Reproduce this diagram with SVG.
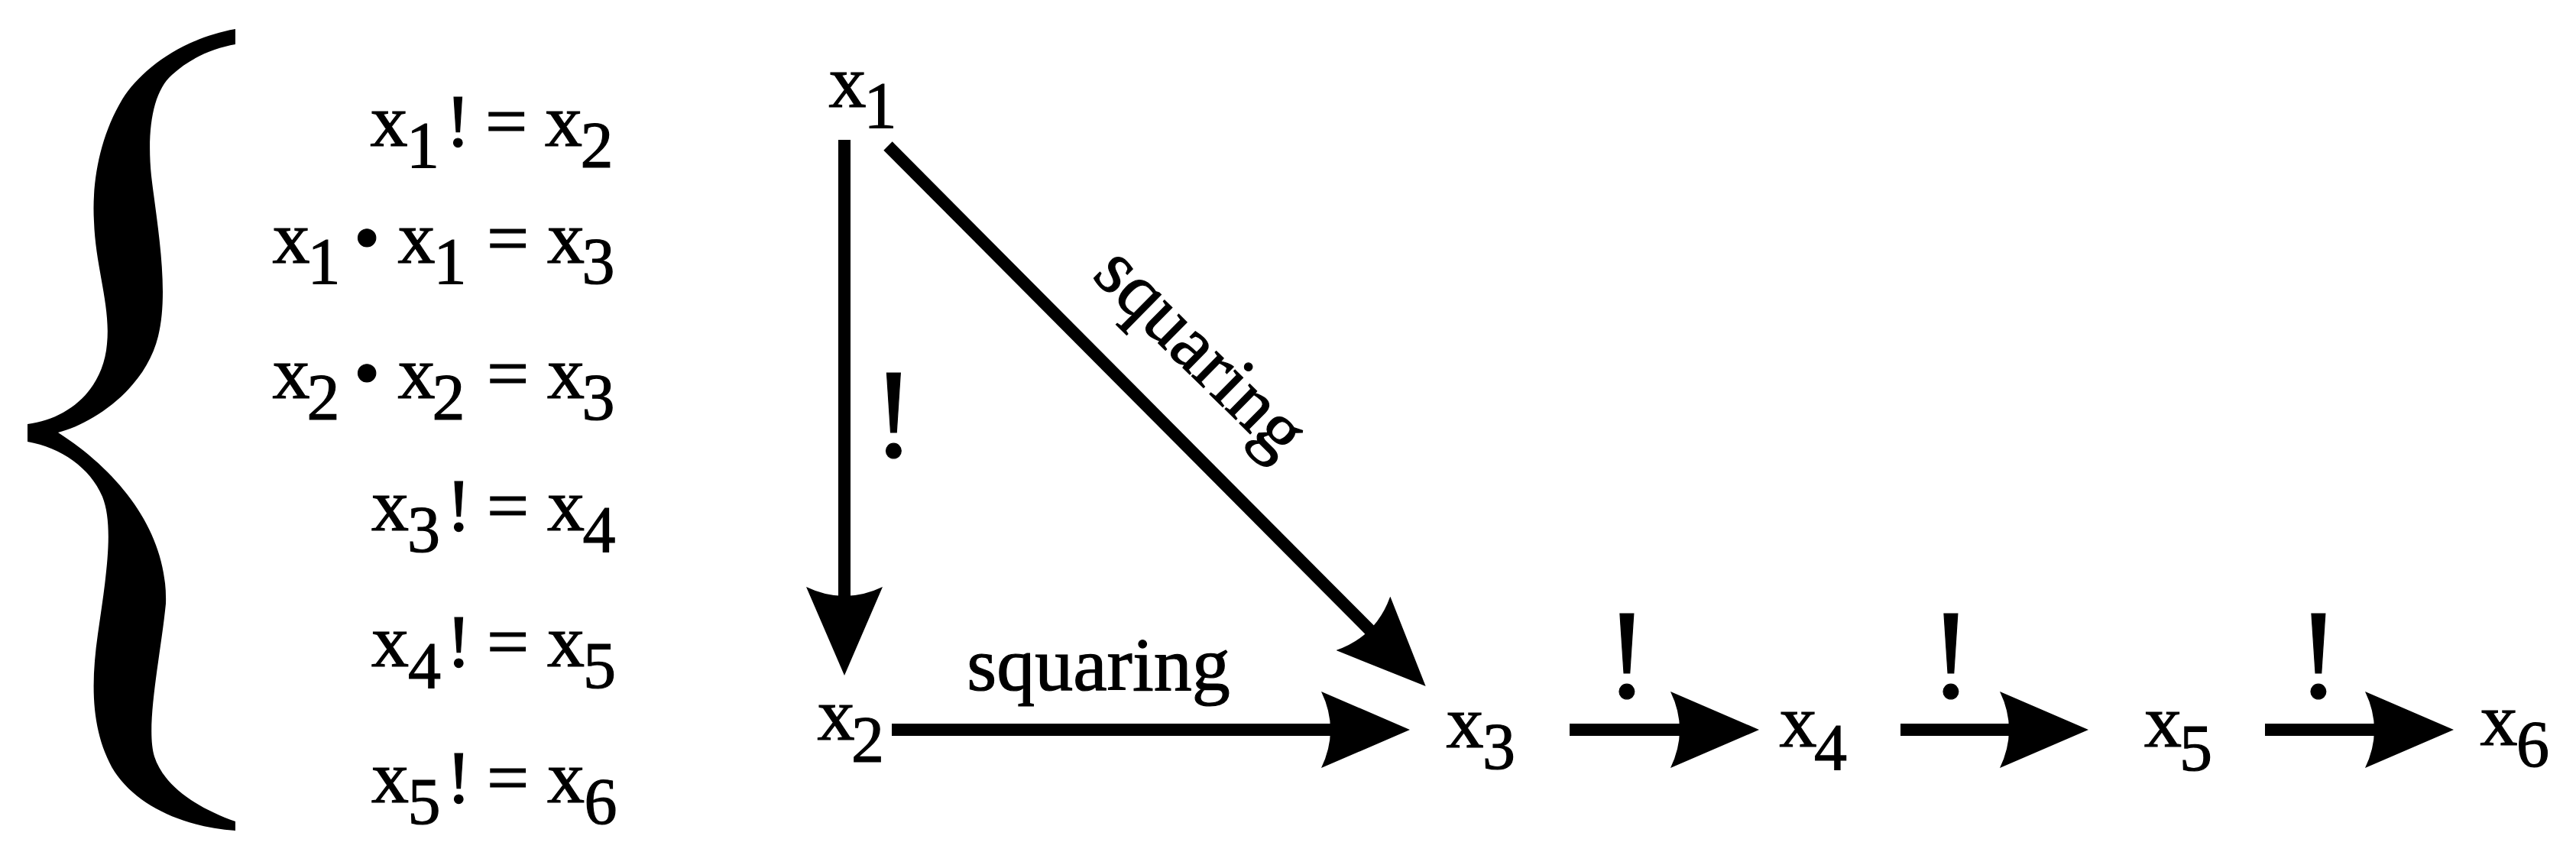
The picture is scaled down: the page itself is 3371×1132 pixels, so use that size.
<svg xmlns="http://www.w3.org/2000/svg" width="3371" height="1132" viewBox="0 0 3371 1132">
<defs>
<style>
text{font-family:"Liberation Serif","Times New Roman",serif;fill:#000;stroke:#000;stroke-width:1.2px}
.m{font-size:98px}
.s{font-size:86px}
.bang{font-size:168px}
.lbl{font-size:100px}
.edge{stroke:#000;stroke-width:16;fill:none;marker-end:url(#ah)}
</style>
<marker id="ah" markerUnits="userSpaceOnUse" viewBox="0 0 116 100" refX="13" refY="50" markerWidth="116" markerHeight="100" orient="auto">
<path d="M0,0 L116,50 L0,100 Q24,50 0,0 Z" fill="#000"/>
</marker>
</defs>
<rect width="3371" height="1132" fill="#fff"/>
<g id="brace">
<path fill="#000" d="M308,38 C240,50 185,90 160,130 C130,180 120,240 123,290 C125,350 145,400 140,450 C135,510 90,548 36,555 L36,578 C80,586 118,612 134,650 C150,690 138,760 128,830 C118,900 120,960 150,1010 C180,1055 240,1082 308,1087 L308,1075 C260,1058 215,1030 202,990 C190,950 210,860 217,790 C220,700 160,620 76,566 C120,555 190,510 207,440 C222,380 205,290 198,230 C192,170 200,120 225,98 C250,75 280,63 308,58 Z"/>
</g>
<g id="equations">
<text id="eq1"><tspan class="m" x="484.5" y="191">x</tspan><tspan class="s" x="532" y="219">1</tspan><tspan class="m" x="583" y="191">!</tspan><tspan class="m" x="635" y="191">=</tspan><tspan class="m" x="713" y="191">x</tspan><tspan class="s" x="759.5" y="219">2</tspan></text>
<text id="eq2"><tspan class="m" x="356.5" y="344">x</tspan><tspan class="s" x="402.5" y="371">1</tspan><tspan class="m" x="463" y="344">•</tspan><tspan class="m" x="520.5" y="344">x</tspan><tspan class="s" x="567.5" y="371">1</tspan><tspan class="m" x="637" y="344">=</tspan><tspan class="m" x="716" y="344">x</tspan><tspan class="s" x="761.5" y="371">3</tspan></text>
<text id="eq3"><tspan class="m" x="356.5" y="521">x</tspan><tspan class="s" x="401.5" y="549">2</tspan><tspan class="m" x="463" y="521">•</tspan><tspan class="m" x="520.5" y="521">x</tspan><tspan class="s" x="565.5" y="549">2</tspan><tspan class="m" x="637" y="521">=</tspan><tspan class="m" x="716" y="521">x</tspan><tspan class="s" x="761.5" y="549">3</tspan></text>
<text id="eq4"><tspan class="m" x="486" y="694">x</tspan><tspan class="s" x="533" y="722">3</tspan><tspan class="m" x="584" y="694">!</tspan><tspan class="m" x="637" y="694">=</tspan><tspan class="m" x="716" y="694">x</tspan><tspan class="s" x="762.5" y="722">4</tspan></text>
<text id="eq5"><tspan class="m" x="486" y="872">x</tspan><tspan class="s" x="534" y="900">4</tspan><tspan class="m" x="584" y="872">!</tspan><tspan class="m" x="637" y="872">=</tspan><tspan class="m" x="716" y="872">x</tspan><tspan class="s" x="763" y="900">5</tspan></text>
<text id="eq6"><tspan class="m" x="486" y="1050">x</tspan><tspan class="s" x="533.5" y="1078">5</tspan><tspan class="m" x="584" y="1050">!</tspan><tspan class="m" x="637" y="1050">=</tspan><tspan class="m" x="716" y="1050">x</tspan><tspan class="s" x="764.5" y="1078">6</tspan></text>
</g>
<g id="connectors">
<line id="e12" class="edge" x1="1105" y1="183" x2="1105" y2="781"/>
<line id="e13" class="edge" x1="1162" y1="191" x2="1793" y2="825"/>
<line id="e23" class="edge" x1="1167" y1="955" x2="1742" y2="955"/>
<line id="e34" class="edge" x1="2054" y1="955" x2="2199" y2="955"/>
<line id="e45" class="edge" x1="2487" y1="955" x2="2630" y2="955"/>
<line id="e56" class="edge" x1="2964" y1="955" x2="3108" y2="955"/>
<text class="bang" x="1141.5" y="598">!</text>
<text class="lbl" x="1437.5" y="903" text-anchor="middle">squaring</text>
<text class="lbl" text-anchor="middle" transform="translate(1550,483) rotate(44.6)">squaring</text>
<text class="bang" x="2101" y="913">!</text>
<text class="bang" x="2525" y="913">!</text>
<text class="bang" x="3006" y="913">!</text>
</g>
<g id="node-x1"><text><tspan class="m" x="1084.5" y="140">x</tspan><tspan class="s" x="1130.5" y="167">1</tspan></text></g>
<g id="node-x2"><text><tspan class="m" x="1069.5" y="968">x</tspan><tspan class="s" x="1114" y="997">2</tspan></text></g>
<g id="node-x3"><text><tspan class="m" x="1892.5" y="978">x</tspan><tspan class="s" x="1940" y="1006">3</tspan></text></g>
<g id="node-x4"><text><tspan class="m" x="2328.5" y="977">x</tspan><tspan class="s" x="2374" y="1007">4</tspan></text></g>
<g id="node-x5"><text><tspan class="m" x="2806" y="977">x</tspan><tspan class="s" x="2852" y="1008">5</tspan></text></g>
<g id="node-x6"><text><tspan class="m" x="3245.5" y="975">x</tspan><tspan class="s" x="3293" y="1003">6</tspan></text></g>
</svg>
